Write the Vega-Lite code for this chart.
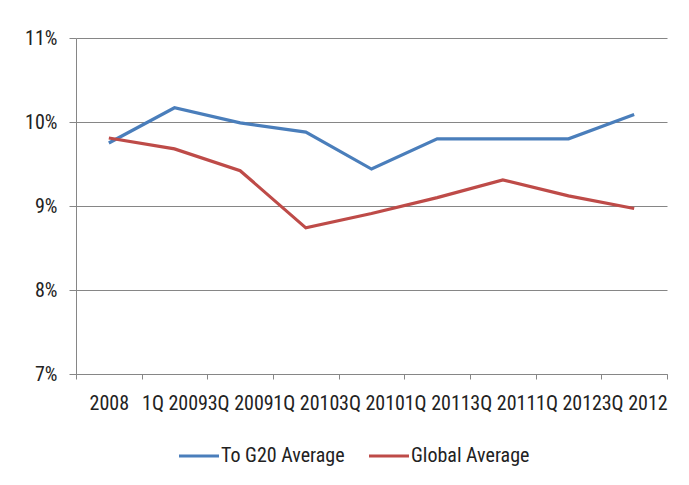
{
  "$schema": "https://vega.github.io/schema/vega-lite/v6.json",
  "width": 591,
  "height": 336,
  "autosize": {"type": "none"},
  "padding": {"left": 76, "top": 38, "right": 22, "bottom": 111},
  "background": "white",
  "config": {
    "view": {"stroke": null},
    "font": "Roboto Condensed, Liberation Sans, sans-serif",
    "axis": {
      "labelFont": "Roboto Condensed, Liberation Sans, sans-serif",
      "labelFontSize": 20,
      "labelColor": "#222222",
      "domainColor": "#868686",
      "tickColor": "#868686",
      "gridColor": "#868686",
      "title": null
    },
    "legend": {
      "labelFont": "Roboto Condensed, Liberation Sans, sans-serif",
      "labelFontSize": 20,
      "labelColor": "#222222"
    }
  },
  "data": {
    "values": [
      {"period": "2008", "series": "To G20 Average", "rate": 9.75},
      {"period": "1Q 2009", "series": "To G20 Average", "rate": 10.17},
      {"period": "3Q 2009", "series": "To G20 Average", "rate": 9.99},
      {"period": "1Q 2010", "series": "To G20 Average", "rate": 9.88},
      {"period": "3Q 2010", "series": "To G20 Average", "rate": 9.44},
      {"period": "1Q 2011", "series": "To G20 Average", "rate": 9.8},
      {"period": "3Q 2011", "series": "To G20 Average", "rate": 9.8},
      {"period": "1Q 2012", "series": "To G20 Average", "rate": 9.8},
      {"period": "3Q 2012", "series": "To G20 Average", "rate": 10.09},
      {"period": "2008", "series": "Global Average", "rate": 9.81},
      {"period": "1Q 2009", "series": "Global Average", "rate": 9.68},
      {"period": "3Q 2009", "series": "Global Average", "rate": 9.42},
      {"period": "1Q 2010", "series": "Global Average", "rate": 8.74},
      {"period": "3Q 2010", "series": "Global Average", "rate": 8.91},
      {"period": "1Q 2011", "series": "Global Average", "rate": 9.1},
      {"period": "3Q 2011", "series": "Global Average", "rate": 9.31},
      {"period": "1Q 2012", "series": "Global Average", "rate": 9.12},
      {"period": "3Q 2012", "series": "Global Average", "rate": 8.97}
    ]
  },
  "mark": {"type": "line", "strokeWidth": 3.2, "strokeJoin": "miter"},
  "encoding": {
    "x": {
      "field": "period",
      "type": "ordinal",
      "sort": null,
      "scale": {"type": "band", "paddingInner": 0, "paddingOuter": 0},
      "axis": {
        "labelAngle": 0,
        "tickBand": "extent",
        "tickSize": 5,
        "labelPadding": 14,
        "grid": false
      }
    },
    "y": {
      "field": "rate",
      "type": "quantitative",
      "scale": {"domain": [7, 11], "nice": false, "zero": false},
      "axis": {
        "values": [7, 8, 9, 10, 11],
        "labelExpr": "datum.value + '%'",
        "grid": true,
        "tickSize": 7,
        "labelPadding": 12
      }
    },
    "color": {
      "field": "series",
      "type": "nominal",
      "scale": {
        "domain": ["To G20 Average", "Global Average"],
        "range": ["#4A7EBB", "#BE4B48"]
      },
      "legend": {
        "title": null,
        "orient": "none",
        "direction": "horizontal",
        "legendX": 101,
        "legendY": 396,
        "symbolType": "stroke",
        "symbolSize": 1600,
        "symbolStrokeWidth": 3.2,
        "labelOffset": 0,
        "columnPadding": 17
      }
    }
  }
}
